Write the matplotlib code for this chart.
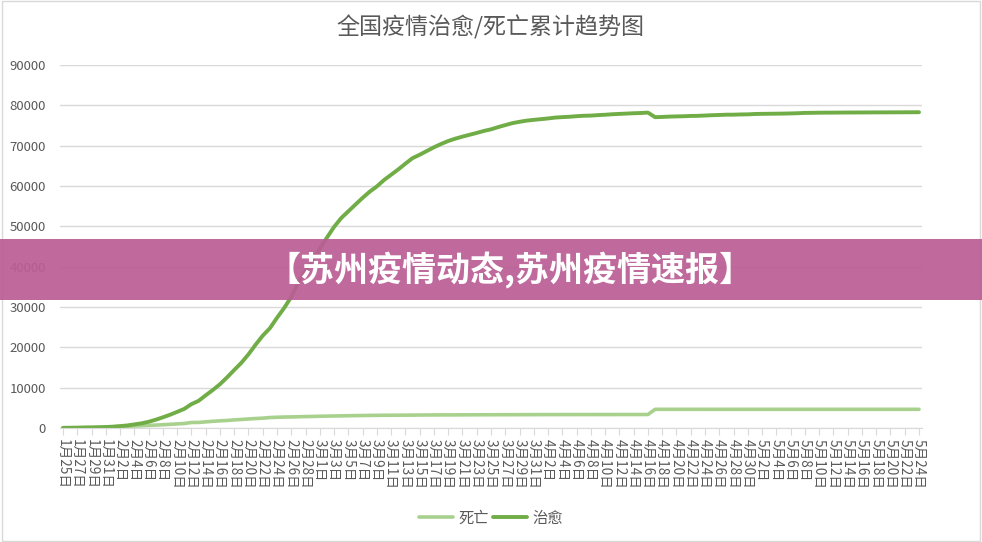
import numpy as np
import pandas as pd
import matplotlib
matplotlib.use("Agg")
import matplotlib.pyplot as plt
from matplotlib.patches import Rectangle

plt.rcParams["font.family"] = ["Noto Sans CJK SC", "DejaVu Sans"]

# ── Data (cumulative, 1月25日 … 5月24日, daily) ─────────────────────
CURED_JAN = [38, 51, 60, 103, 124, 171, 243]
CURED_FEB = [328, 475, 632, 892, 1153, 1540, 2050, 2649, 3281, 3996,
             4740, 5911, 6723, 8096, 9419, 10844, 12552, 14376, 16155, 18264,
             20659, 22888, 24734, 27323, 29745, 32495, 36117, 39002, 41625]
CURED_MAR = [44462, 47204, 49856, 52045, 53726, 55404, 57065, 58600, 59897, 61475,
             62793, 64111, 65541, 66911, 67749, 68679, 69601, 70420, 71150, 71740,
             72244, 72703, 73159, 73650, 74051, 74600, 75100, 75582, 75923, 76206,
             76405]
CURED_APR = [76571, 76751, 76964, 77078, 77167, 77310, 77410, 77455, 77575, 77663,
             77791, 77877, 77956, 78039, 78099, 78200, 77062, 77123, 77207, 77256,
             77298, 77366, 77394, 77474, 77553, 77610, 77679, 77685, 77742, 77766]
CURED_MAY = [77853, 77889, 77911, 77930, 77957, 77993, 78046, 78120, 78144, 78171,
             78189, 78195, 78209, 78221, 78227, 78230, 78241, 78249, 78255, 78261,
             78268, 78277, 78284, 78291]

DEATH_JAN = [56, 80, 106, 132, 170, 213, 259]
DEATH_FEB = [304, 361, 425, 490, 563, 636, 722, 811, 908, 1016,
             1113, 1367, 1380, 1523, 1665, 1770, 1868, 2004, 2118, 2236,
             2345, 2442, 2592, 2663, 2715, 2744, 2788, 2835, 2870]
DEATH_MAR = [2912, 2943, 2981, 3012, 3042, 3070, 3097, 3119, 3136, 3158,
             3169, 3176, 3189, 3199, 3213, 3226, 3237, 3245, 3248, 3255,
             3261, 3270, 3277, 3281, 3287, 3292, 3295, 3300, 3304, 3305,
             3312]
DEATH_APR = [3318, 3322, 3326, 3329, 3331, 3331, 3333, 3335, 3336, 3339,
             3339, 3341, 3341, 3341, 3342, 3342, 4632, 4632, 4632, 4632,
             4632, 4632, 4632, 4632, 4633, 4633, 4633, 4633, 4633, 4633]
DEATH_MAY = [4633] * 23 + [4634]

cured = np.array(CURED_JAN + CURED_FEB + CURED_MAR + CURED_APR + CURED_MAY)
death = np.array(DEATH_JAN + DEATH_FEB + DEATH_MAR + DEATH_APR + DEATH_MAY)

dates = pd.date_range("2020-01-25", "2020-05-24", freq="D")
labels = [f"{d.month}月{d.day}日" for d in dates]
assert len(dates) == len(cured) == len(death)

TITLE = "全国疫情治愈/死亡累计趋势图"
BANNER = "【苏州疫情动态,苏州疫情速报】"

C_CURED = "#70AD47"
C_DEATH = "#A9D18E"
C_TEXT = "#595959"
C_GRID = "#D9D9D9"

# ── Figure ────────────────────────────────────────────────────────
fig = plt.figure(figsize=(9.82, 5.42), dpi=100)
fig.patch.set_facecolor("white")
fig.patches.append(Rectangle((0.002, 0.002), 0.996, 0.996, transform=fig.transFigure,
                             fill=False, edgecolor=C_GRID, linewidth=1.0))

ax = fig.add_axes([60 / 982, 1 - 428 / 542, 862 / 982, 363 / 542])
x = np.arange(len(dates))
ax.plot(x, death, color=C_DEATH, lw=2.6, label="死亡", solid_capstyle="round")
ax.plot(x, cured, color=C_CURED, lw=2.8, label="治愈", solid_capstyle="round")

ax.set_xlim(-0.42, len(dates) - 1 + 0.42)
ax.set_ylim(0, 90000)
ax.set_yticks(np.arange(0, 90001, 10000))
ax.yaxis.grid(True, color=C_GRID, lw=1.0)
ax.set_axisbelow(True)
for side in ["top", "right", "left"]:
    ax.spines[side].set_visible(False)
ax.spines["bottom"].set_color(C_GRID)
ax.tick_params(axis="y", length=0, pad=10, labelsize=9.5, labelcolor=C_TEXT)

ax.set_xticks(x[::2])
ax.set_xticklabels(labels[::2], rotation=-90, fontsize=9.8, color=C_TEXT,
                   va="top", ha="center")
ax.tick_params(axis="x", length=5, color=C_GRID, pad=3)

fig.text(0.499, 1 - 27 / 542, TITLE, ha="center", va="center",
         fontsize=16.6, color=C_TEXT)

ax.legend(loc="center", bbox_to_anchor=(0.5, 1 - 518 / 542), bbox_transform=fig.transFigure,
          ncol=2, frameon=False, fontsize=11, handlelength=2.2, columnspacing=0.3,
          handletextpad=0.35, labelcolor=C_TEXT)

# ── Banner overlay ────────────────────────────────────────────────
fig.patches.append(Rectangle((0, 1 - 300 / 542), 1, 61 / 542, transform=fig.transFigure,
                             facecolor="#BA5E95", alpha=0.93, edgecolor="none", zorder=10))
fig.text(0.519, 1 - 270 / 542, BANNER, ha="center", va="center", fontsize=24.5,
         fontweight=900, color="white", zorder=11)

fig.savefig("out.png", dpi=100, facecolor="white")
